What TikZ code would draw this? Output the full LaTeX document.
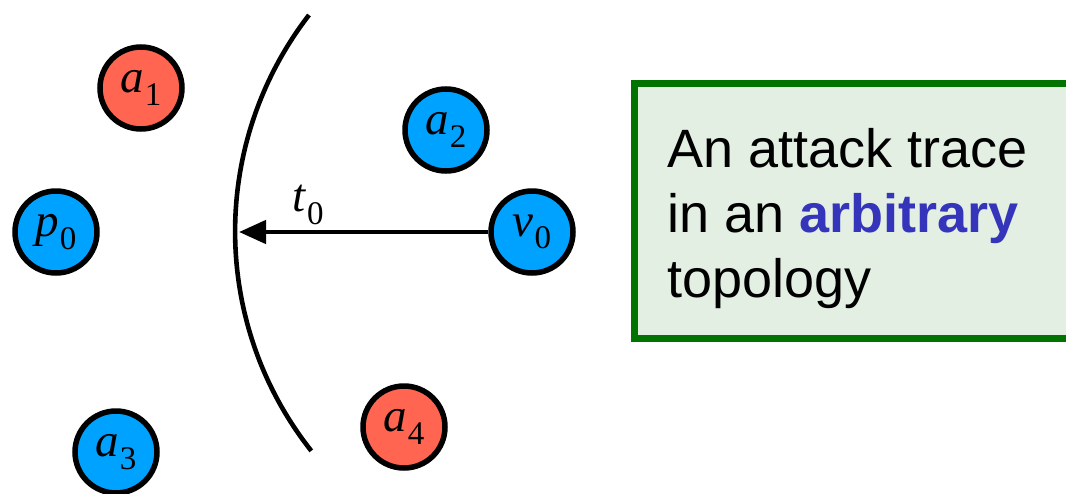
\documentclass[tikz,border=0pt]{standalone}
\usepackage{fontspec}
\setmainfont{Liberation Serif}
\newfontfamily\boxfont{Liberation Sans}
\usetikzlibrary{arrows.meta}
\definecolor{nodered}{HTML}{FF6550}
\definecolor{nodeblue}{HTML}{00A2FF}
\definecolor{boxgreen}{HTML}{007300}
\definecolor{boxfill}{HTML}{E3EFE3}
\definecolor{emphblue}{HTML}{3535BB}
\newcommand\lab[2]{\textit{#1}\kern0.02em\raisebox{-0.26em}{\fontsize{33}{33}\selectfont #2}}
\begin{document}
\begin{tikzpicture}[x=1pt,y=1pt,
  agent/.style={circle, draw=black, line width=5.5pt, minimum size=82pt, inner sep=0pt,
    font=\fontsize{47}{47}\selectfont},
  redag/.style={agent, fill=nodered},
  blueag/.style={agent, fill=nodeblue},
  thick line/.style={line width=4.6pt, draw=black},
  descbox/.style={draw=boxgreen, fill=boxfill, line width=7pt}]
\useasboundingbox (0,0) rectangle (1066,-493);
\clip (0,0) rectangle (1066,-493);
% agents
\node[redag]  (a1) at (141,-88)  {\lab{a}{1}};
\node[blueag] (a2) at (446,-130) {\lab{a}{2}};
\node[blueag] (p0) at (56,-232)  {\lab{p}{0}};
\node[blueag] (v0) at (532,-232) {\lab{v}{0}};
\node[blueag] (a3) at (116,-452) {\lab{a}{3}};
\node[redag]  (a4) at (404,-427) {\lab{a}{4}};
% boundary curve
\draw[thick line] (309,-15) arc[start angle=142.3, end angle=218.3, radius=354];
\coordinate (cm) at (239,-232);
% arrow
\draw[thick line, -{Triangle[length=27pt,width=23pt]}] (v0) -- (cm);
\node[font=\fontsize{47}{47}\selectfont] (t0) at (308,-205) {\lab{t}{0}};
% description box
\draw[descbox] (634.5,-83.5) rectangle (1100,-338.5);
\node[anchor=north west, align=left, inner sep=0pt,
  font=\boxfont\fontsize{54}{65}\selectfont] (desc) at (667,-128)
  {An attack trace\\in an {\bfseries\color{emphblue}arbitrary}\\topology};
\end{tikzpicture}
\end{document}
